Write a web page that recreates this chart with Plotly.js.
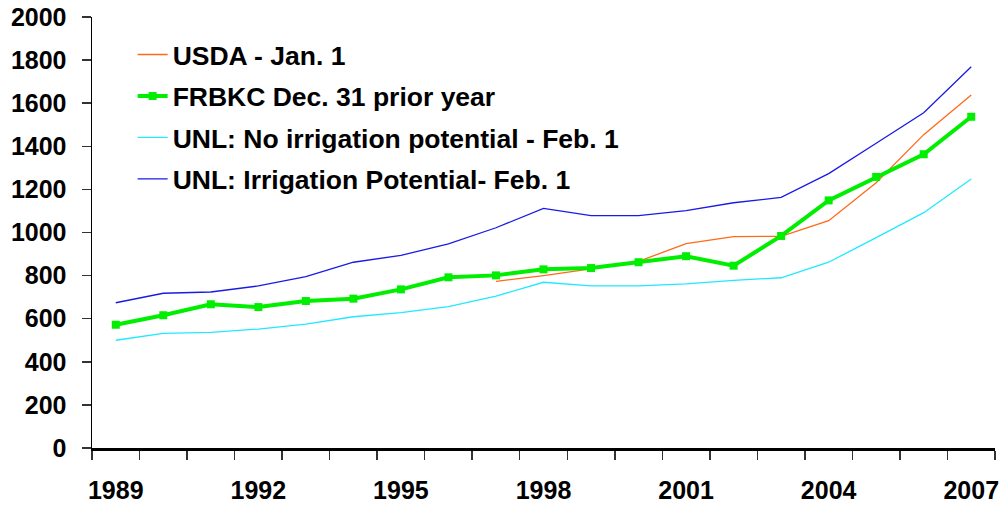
<!DOCTYPE html>
<html>
<head>
<meta charset="utf-8">
<script src="https://cdn.plot.ly/plotly-3.0.1.min.js"></script>
<style>html,body{margin:0;padding:0;background:#fff;}#chart{width:1002px;height:510px;}</style>
</head>
<body>
<div id="chart"></div>
<script>
const years = ['1989','1990','1991','1992','1993','1994','1995','1996','1997','1998','1999','2000','2001','2002','2003','2004','2005','2006','2007'];
const usdaYears = ['1997','1998','1999','2000','2001','2002','2003','2004','2005','2006','2007'];
const usda = [773, 800, 831, 866, 948, 981, 982, 1055, 1231, 1454, 1638];
const frbkc = [572, 616, 667, 654, 682, 693, 736, 792, 801, 829, 835, 862, 890, 846, 984, 1149, 1258, 1363, 1537];
const unlNoIrr = [500, 532, 537, 552, 575, 609, 628, 656, 705, 769, 752, 752, 762, 778, 790, 862, 976, 1092, 1248];
const unlIrr = [674, 718, 724, 752, 795, 862, 894, 947, 1022, 1112, 1078, 1078, 1101, 1138, 1163, 1273, 1414, 1556, 1769];
const labeledYears = ['1989','1992','1995','1998','2001','2004','2007'];
const tickText = years.map(y => labeledYears.includes(y) ? y : '');
const yTicks = [0,200,400,600,800,1000,1200,1400,1600,1800,2000];

const traces = [
  {x: usdaYears, y: usda, name: 'USDA - Jan. 1', mode: 'lines', line: {color: '#FF6A1A', width: 1.3}, legendgroup: 'a'},
  {x: years, y: frbkc, name: 'FRBKC Dec. 31 prior year', mode: 'lines+markers', line: {color: '#00EE00', width: 4}, marker: {symbol: 'square', size: 8, color: '#00EE00'}, legendgroup: 'b'},
  {x: years, y: unlNoIrr, name: 'UNL: No irrigation potential - Feb. 1', mode: 'lines', line: {color: '#22E8FF', width: 1.3}, legendgroup: 'c'},
  {x: years, y: unlIrr, name: 'UNL: Irrigation Potential- Feb. 1', mode: 'lines', line: {color: '#1A1AE6', width: 1.3}, legendgroup: 'd'}
];

const layout = {
  width: 1002, height: 510,
  margin: {l: 92, r: 7, t: 17, b: 62},
  paper_bgcolor: '#fff', plot_bgcolor: '#fff',
  font: {family: 'Liberation Sans, Arial, sans-serif', color: '#000'},
  showlegend: true,
  legend: {x: 0.045, y: 0.968, xanchor: 'left', yanchor: 'top', bgcolor: 'rgba(0,0,0,0)',
           font: {size: 26.5, family: 'Liberation Sans, Arial, sans-serif', color: '#000', weight: 'bold'},
           traceorder: 'grouped', tracegroupgap: 4},
  xaxis: {type: 'category', categoryorder: 'array', categoryarray: years, range: [-0.5, 18.5],
          tickmode: 'array', tickvals: years, ticktext: tickText, tickangle: 0,
          tickson: 'boundaries', ticks: 'outside', ticklen: 9, tickwidth: 1.5, tickcolor: '#333',
          showline: true, linecolor: '#000', linewidth: 2.5, mirror: false, showgrid: false, zeroline: false,
          tickfont: {size: 25, family: 'Liberation Sans, Arial, sans-serif', weight: 'bold'}, ticklabelstandoff: 18},
  xaxis2: {overlaying: 'x', side: 'top', showline: true, linecolor: '#777', linewidth: 1, showticklabels: false, ticks: '', showgrid: false, zeroline: false, range: [0,1]},
  yaxis: {range: [0, 2000], tickmode: 'array', tickvals: yTicks, ticks: 'outside', ticklen: 9, tickwidth: 1.5, tickcolor: '#333',
          showline: true, linecolor: '#000', linewidth: 1.5, showgrid: false, zeroline: false,
          tickfont: {size: 25, family: 'Liberation Sans, Arial, sans-serif', weight: 'bold'}, ticklabelstandoff: 10},
  yaxis2: {overlaying: 'y', side: 'right', showline: true, linecolor: '#777', linewidth: 1, showticklabels: false, ticks: '', showgrid: false, zeroline: false, range: [0,1]}
};

Plotly.newPlot('chart', traces, layout, {displayModeBar: false, staticPlot: true});
</script>
</body>
</html>
